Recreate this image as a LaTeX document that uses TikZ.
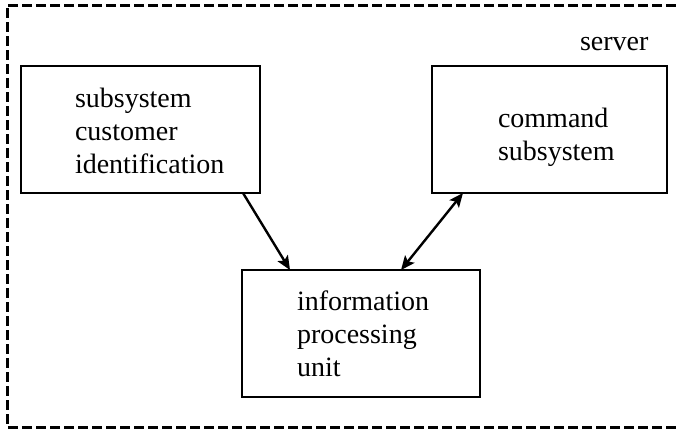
\documentclass[tikz,border=0pt]{standalone}
\usepackage{fontspec}
\setmainfont{Liberation Serif}
\usetikzlibrary{arrows.meta,calc}
\begin{document}
\begin{tikzpicture}[x=1pt,y=-1pt,
  boxnode/.style={draw,line width=1.8pt,inner sep=0pt,outer sep=0pt,rectangle},
  txt/.style={inner sep=0pt,outer sep=0pt,align=left,anchor=west,font=\fontsize{28}{33}\selectfont},
  conn/.style={line width=2.4pt,-{Stealth[length=14pt,width=12pt,inset=3pt]}},
  conn2/.style={line width=2.4pt,{Stealth[length=14pt,width=12pt,inset=3pt]}-{Stealth[length=14pt,width=12pt,inset=3pt]}},
  border/.style={line width=3pt,dash pattern=on 10pt off 4pt}]
\useasboundingbox (0,0) rectangle (676,431);
\fill[white] (0,0) rectangle (676,431);
\draw[border] (676,5) -- (7,5) -- (7,427) -- (676,427);
\node[boxnode,minimum width=239pt,minimum height=127pt] (lb) at (140.5,129.5) {};
\node[boxnode,minimum width=235pt,minimum height=127pt] (rb) at (549.5,129.5) {};
\node[boxnode,minimum width=238pt,minimum height=127pt] (bb) at (361,333.5) {};
\node[txt] (lbt) at (75,130.5) {subsystem\\customer\\identification};
\node[txt] (rbt) at (498,137.5) {command\\subsystem};
\node[txt] (bbt) at (297,333.5) {information\\processing\\unit};
\node[txt,anchor=base west] (srv) at (580,50) {server};
\draw[conn] ([xshift=222pt]lb.south west) -- ([xshift=48pt]bb.north west);
\draw[conn2] ([xshift=159pt]bb.north west) -- ([xshift=31pt]rb.south west);
\end{tikzpicture}
\end{document}
